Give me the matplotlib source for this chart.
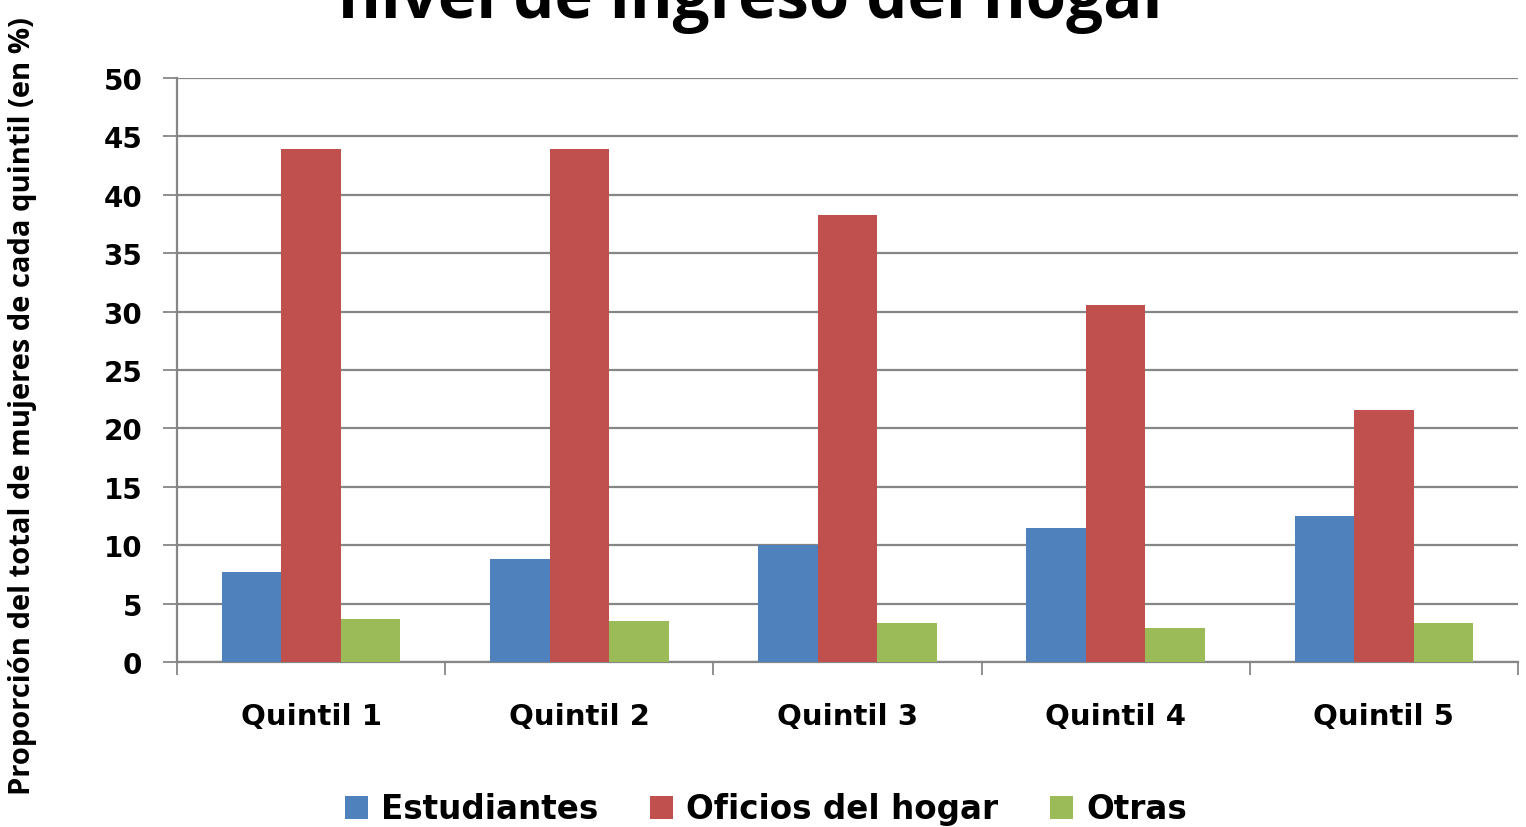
import matplotlib.pyplot as plt
import numpy as np

# Data
quintiles = ['Quintil 1', 'Quintil 2', 'Quintil 3', 'Quintil 4', 'Quintil 5']
estudiantes = [7.7, 8.8, 10.0, 11.5, 12.5]
oficios_hogar = [43.9, 43.9, 38.3, 30.6, 21.6]
otras = [3.7, 3.5, 3.3, 2.9, 3.3]

series_names = ['Estudiantes', 'Oficios del hogar', 'Otras']
colors = ['#4F81BD', '#C0504D', '#9BBB59']

fig = plt.figure(figsize=(15.26, 8.28), dpi=100)
ax = fig.add_axes([177 / 1526, 1 - 663 / 828, (1518 - 177) / 1526, (663 - 79) / 828])

x = np.arange(len(quintiles))
w = 0.222
for i, (vals, name, c) in enumerate(zip([estudiantes, oficios_hogar, otras], series_names, colors)):
    ax.bar(x + (i - 1) * w, vals, width=w, color=c, label=name, zorder=3)

ax.set_xlim(-0.5, len(quintiles) - 0.5)
ax.set_ylim(0, 50)
ax.set_yticks(range(0, 51, 5))
ax.yaxis.grid(True, color='#868686', linewidth=1.6, zorder=0)
ax.set_axisbelow(True)

# category ticks sit between groups
ax.set_xticks(x)
ax.set_xticklabels(quintiles, fontsize=21, fontweight='bold', family='DejaVu Sans')
ax.set_xticks(np.arange(-0.5, len(quintiles)), minor=True)
ax.tick_params(axis='x', which='major', length=0, pad=29)
ax.tick_params(axis='x', which='minor', length=9, width=1.3, color='#868686', direction='out')
ax.tick_params(axis='y', length=10, width=1.3, color='#868686', labelsize=20, pad=15)
for lbl in ax.get_yticklabels():
    lbl.set_fontweight('bold')
    lbl.set_family('DejaVu Sans')

for s in ['top', 'right']:
    ax.spines[s].set_visible(False)
for s in ['left', 'bottom']:
    ax.spines[s].set_color('#868686')
    ax.spines[s].set_linewidth(1.6)

ax.set_ylabel('Proporción del total de mujeres de cada quintil (en %)', fontsize=21,
              fontweight='bold', family='Open Sans')
ax.yaxis.set_label_coords(-140 / 1341, 0.44)

fig.text(755 / 1526, 1 - 18 / 828, 'nivel de ingreso del hogar', ha='center', va='baseline',
         fontsize=47, fontweight='bold', family='Open Sans')

fig.legend(loc='center', bbox_to_anchor=(766 / 1526, 1 - 810 / 828), ncol=3, frameon=False,
           prop={'size': 23.5, 'weight': 'bold', 'family': 'DejaVu Sans'},
           handlelength=0.7, handleheight=0.7, handletextpad=0.4, columnspacing=1.6)

fig.savefig('out.png', dpi=100)
